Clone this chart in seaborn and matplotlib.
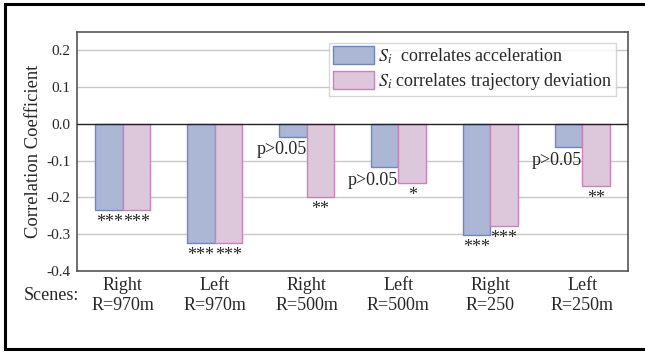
import matplotlib
matplotlib.use("Agg")
import matplotlib.pyplot as plt
from matplotlib.lines import Line2D
import seaborn as sns
import pandas as pd

# Scenes and correlation coefficients
scenes = ["Right\nR=970m", "Left\nR=970m", "Right\nR=500m",
          "Left\nR=500m", "Right\nR=250", "Left\nR=250m"]
series = [r"$S_i$  correlates acceleration",
          r"$S_i$ correlates trajectory deviation"]
accel = [-0.233, -0.325, -0.035, -0.117, -0.302, -0.063]
traj = [-0.235, -0.325, -0.200, -0.162, -0.277, -0.170]
accel_sig = ["***", "***", "p>0.05", "p>0.05", "***", "p>0.05"]
traj_sig = ["***", "***", "**", "*", "***", "**"]
yticks = [-0.4, -0.3, -0.2, -0.1, 0.0, 0.1, 0.2]

df = pd.DataFrame({
    "scene": scenes * 2,
    "series": [series[0]] * len(scenes) + [series[1]] * len(scenes),
    "value": accel + traj,
})

sns.set_theme(style="white")
plt.rcParams["font.family"] = ["Liberation Serif", "DejaVu Serif"]
plt.rcParams["mathtext.fontset"] = "stix"

fills = ["#a5b4dd", "#e1c3dc"]
edges = ["#6f86c6", "#c982ba"]

fig = plt.figure(figsize=(6.45, 3.52), dpi=100)
ax = fig.add_axes([77 / 645, 81 / 352, 551 / 645, 239 / 352])

sns.barplot(data=df, x="scene", y="value", hue="series", order=scenes,
            hue_order=series, palette=fills, width=0.6, ax=ax,
            errorbar=None, zorder=3, linewidth=1.0)
for cont, ec in zip(ax.containers, edges):
    for bar in cont:
        bar.set_edgecolor(ec)

ax.set_ylim(-0.4, 0.25)
ax.set_xlim(-0.5, 5.5)
ax.set_yticks(yticks)
ax.set_yticklabels([f"{t:.1f}" for t in yticks], fontsize=11)
ax.tick_params(axis="x", labelsize=13, length=0, pad=4.5)
ax.tick_params(axis="y", length=0, pad=4.5)
for t in yticks:
    if t != 0.0:
        ax.axhline(t, color="#c8c8c8", linewidth=1.0, zorder=1)
ax.axhline(0.0, color="#222222", linewidth=1.0, zorder=4)
for sp in ax.spines.values():
    sp.set_color("#555555")
    sp.set_linewidth(1.2)
ax.set_xlabel("")
ax.set_ylabel("Correlation Coefficient", fontsize=13.4, labelpad=3)

# Significance marks under each bar
for cont, sigs in zip(ax.containers, [accel_sig, traj_sig]):
    for bar, s in zip(cont, sigs):
        xc = bar.get_x() + bar.get_width() / 2
        yb = bar.get_y() + bar.get_height()
        if s.startswith("p"):
            ax.annotate(s, (bar.get_x() + bar.get_width(), yb), xytext=(0, -9.5),
                        textcoords="offset points", ha="right", va="center",
                        fontsize=13, zorder=5)
        else:
            ax.annotate(s, (xc, yb), xytext=(0, -9), textcoords="offset points",
                        ha="center", va="center", fontsize=13, zorder=5)

leg = ax.legend(loc="upper right", bbox_to_anchor=(0.978, 0.955), fontsize=13,
                frameon=True, fancybox=False, handlelength=2.3, handleheight=1.15,
                handletextpad=0.2, borderpad=0.2, labelspacing=0.3,
                borderaxespad=0.0)
leg.get_frame().set_edgecolor("#cccccc")
leg.get_frame().set_linewidth(1.0)
for h, ec in zip(leg.legend_handles, edges):
    h.set_edgecolor(ec)

fig.text(24 / 645, 1 - 296 / 352, "Scenes:", fontsize=13, ha="left", va="center")

# Outer frame (left, top and bottom edges)
fx0, fy0, fy1 = 4.5 / 645, 1 - 349 / 352, 1 - 4.3 / 352
fig.add_artist(Line2D([1.01, fx0, fx0, 1.01], [fy1, fy1, fy0, fy0],
                      transform=fig.transFigure, color="black", linewidth=2.2,
                      solid_joinstyle="miter"))

fig.savefig("out.png", dpi=100)
